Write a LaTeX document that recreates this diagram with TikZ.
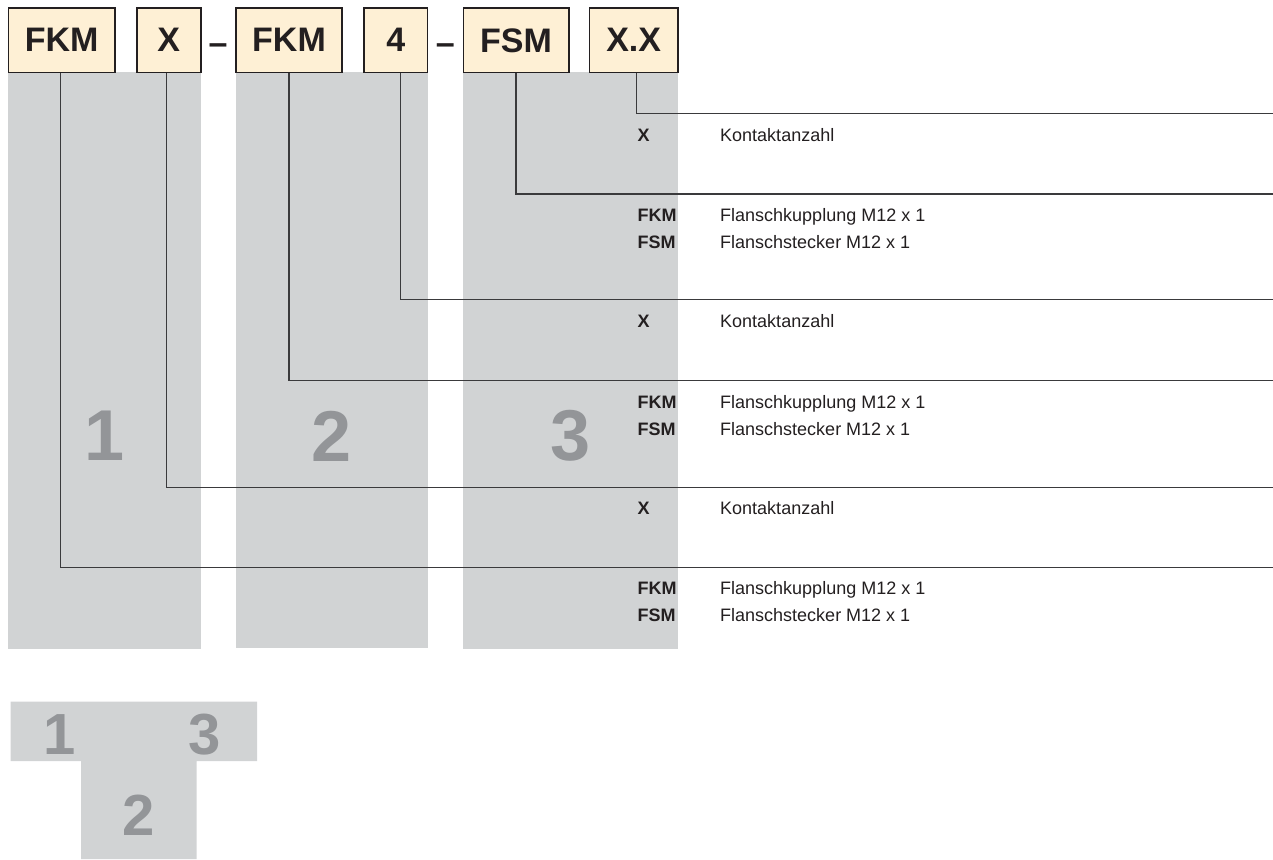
\documentclass[tikz,border=0pt]{standalone}
\usepackage{fontspec}
\setmainfont{Liberation Sans}
\definecolor{colgray}{HTML}{D1D3D4}
\definecolor{numgray}{HTML}{939598}
\definecolor{boxfill}{HTML}{FEF0D5}
\definecolor{ink}{HTML}{231F20}
\definecolor{leadink}{HTML}{3A3A3C}
\begin{document}
\begin{tikzpicture}[x=1pt,y=-1pt,
  codebox/.style={draw=ink, line width=1.6pt, fill=boxfill, minimum height=64pt, inner sep=0pt, font=\fontsize{34}{40}\selectfont\bfseries, text=ink},
  sepdash/.style={font=\fontsize{34}{40}\selectfont\bfseries, text=ink, inner sep=0pt, anchor=base},
  lead/.style={draw=leadink, line width=1.1pt},
  code/.style={anchor=base west, inner sep=0pt, font=\fontsize{18}{20}\selectfont\bfseries, text=ink},
  desc/.style={anchor=base west, inner sep=0pt, font=\fontsize{18}{20}\selectfont, text=ink},
  bignum/.style={font=\fontsize{72}{80}\selectfont\bfseries, text=numgray, inner sep=0pt},
  smallnum/.style={font=\fontsize{58}{64}\selectfont\bfseries, text=numgray, inner sep=0pt},
  colrect/.style={fill=colgray, draw=none}]

\useasboundingbox (0,0) rectangle (1273,859);

% gray columns
\fill[colrect] (8.3,72) rectangle (200.7,648.5);
\fill[colrect] (235.5,72) rectangle (427.7,648);
\fill[colrect] (463.3,72) rectangle (678,648.5);

% big column numbers
\node[bignum] (n1) at (104.5,436) {1};
\node[bignum] (n2) at (331.5,436) {2};
\node[bignum] (n3) at (570.7,436) {3};

% code boxes
\node[codebox, minimum width=106.7pt] (b1) at (61.7,40.3) {FKM};
\node[codebox, minimum width=64pt] (b2) at (168.7,40.3) {X};
\node[sepdash] (d1) at (218,54.3) {–};
\node[codebox, minimum width=106pt] (b3) at (289,40.3) {FKM};
\node[codebox, minimum width=63.7pt] (b4) at (395.8,40.3) {4};
\node[sepdash] (d2) at (445.3,54.3) {–};
\node[codebox, minimum width=105.4pt] (b5) at (516,40.3) {FSM};
\node[codebox, minimum width=88.7pt] (b6) at (633.7,40.3) {X.X};

% line ends at the right edge
\coordinate (e6) at (1273,113.3);
\coordinate (e5) at (1273,194);
\coordinate (e4) at (1273,299.5);
\coordinate (e3) at (1273,380.7);
\coordinate (e2) at (1273,487.3);
\coordinate (e1) at (1273,567.3);

\draw[lead] ([xshift=3pt]b6.south) |- (e6);
\draw[lead] (b5.south) |- (e5);
\draw[lead] ([xshift=4.5pt]b4.south) |- (e4);
\draw[lead] (b3.south) |- (e3);
\draw[lead] ([xshift=-2pt]b2.south) |- (e2);
\draw[lead] ([xshift=-1pt]b1.south) |- (e1);

% legend texts
\node[code] (c6) at (637.3,141) {X};
\node[desc] (t6) at (720,141) {Kontaktanzahl};

\node[code] (c5a) at (637.3,221.5) {FKM};
\node[desc] (t5a) at (720,221.5) {Flanschkupplung M12 x 1};
\node[code] (c5b) at (637.3,248.5) {FSM};
\node[desc] (t5b) at (720,248.5) {Flanschstecker M12 x 1};

\node[code] (c4) at (637.3,327) {X};
\node[desc] (t4) at (720,327) {Kontaktanzahl};

\node[code] (c3a) at (637.3,408.2) {FKM};
\node[desc] (t3a) at (720,408.2) {Flanschkupplung M12 x 1};
\node[code] (c3b) at (637.3,435.2) {FSM};
\node[desc] (t3b) at (720,435.2) {Flanschstecker M12 x 1};

\node[code] (c2) at (637.3,514.8) {X};
\node[desc] (t2) at (720,514.8) {Kontaktanzahl};

\node[code] (c1a) at (637.3,594.8) {FKM};
\node[desc] (t1a) at (720,594.8) {Flanschkupplung M12 x 1};
\node[code] (c1b) at (637.3,621.8) {FSM};
\node[desc] (t1b) at (720,621.8) {Flanschstecker M12 x 1};

% T-shaped key at the bottom
\fill[colrect] (10.7,701.7) -- (257,701.7) -- (257,761) -- (196.7,761) -- (196.7,859) -- (81,859) -- (81,761) -- (10.7,761) -- cycle;
\node[smallnum] (k1) at (60,735) {1};
\node[smallnum] (k3) at (205,735) {3};
\node[smallnum] (k2) at (138.8,815) {2};
\end{tikzpicture}
\end{document}
